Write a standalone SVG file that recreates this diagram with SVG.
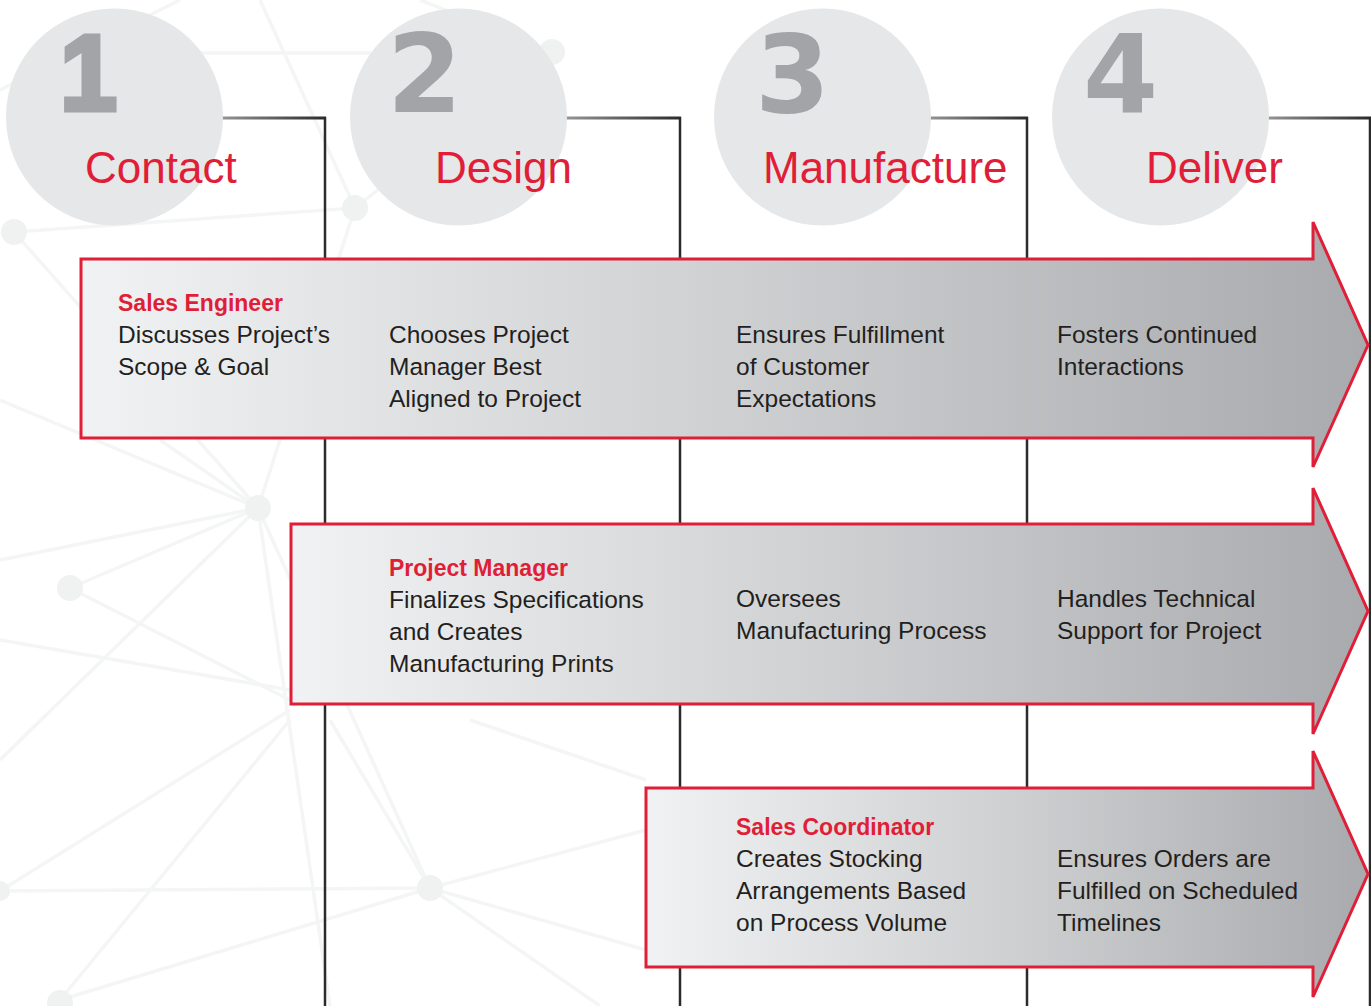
<svg xmlns="http://www.w3.org/2000/svg" width="1371" height="1006" viewBox="0 0 1371 1006">
<style>
.bg line{stroke:#f4f5f5;stroke-width:3.5;}
.bg circle{fill:#f0f1f1;}
.circ{fill:#e6e7e8;}
.num{font-family:"DejaVu Sans","Liberation Sans",sans-serif;font-weight:bold;font-size:108px;fill:#a2a4a7;}
.num1{font-family:"Liberation Sans",Arial,sans-serif;font-weight:bold;font-size:108px;fill:#a2a4a7;stroke:#a2a4a7;stroke-width:5;stroke-linejoin:miter;}
.lbl{font-family:"Liberation Sans",Arial,sans-serif;font-size:44px;fill:#e01e37;}
.arrow{fill:url(#ag);stroke:#e01e37;stroke-width:3;}
.t{font-family:"Liberation Sans",Arial,sans-serif;font-size:24.5px;fill:#231f20;}
.h{font-family:"Liberation Sans",Arial,sans-serif;font-size:23px;font-weight:bold;fill:#e01e37;}
.v{stroke:#2b2b2b;stroke-width:2.5;fill:none;}
.hz{fill:url(#lg);}
</style>
<defs>
<linearGradient id="ag" x1="0" y1="0" x2="1" y2="0">
<stop offset="0" stop-color="#f1f2f3"/>
<stop offset="0.5" stop-color="#cfd0d2"/>
<stop offset="1" stop-color="#a8aaad"/>
</linearGradient>
<linearGradient id="lg" x1="0" y1="0" x2="1" y2="0">
<stop offset="0" stop-color="#a0a0a2"/>
<stop offset="1" stop-color="#2b2b2b"/>
</linearGradient>
</defs>
<rect width="1371" height="1006" fill="#ffffff"/>
<g class="bg">
<line x1="0" y1="90" x2="180" y2="0"/>
<line x1="200" y1="53" x2="400" y2="53"/>
<line x1="14" y1="232" x2="355" y2="208"/>
<line x1="14" y1="232" x2="258" y2="508"/>
<line x1="355" y1="208" x2="258" y2="508"/>
<line x1="355" y1="208" x2="552" y2="52"/>
<line x1="552" y1="52" x2="420" y2="0"/>
<line x1="260" y1="0" x2="355" y2="208"/>
<line x1="0" y1="400" x2="258" y2="508"/>
<line x1="258" y1="508" x2="70" y2="588"/>
<line x1="258" y1="508" x2="0" y2="560"/>
<line x1="258" y1="508" x2="430" y2="888"/>
<line x1="258" y1="508" x2="330" y2="1006"/>
<line x1="258" y1="508" x2="0" y2="760"/>
<line x1="258" y1="508" x2="160" y2="440"/>
<line x1="70" y1="588" x2="290" y2="700"/>
<line x1="0" y1="640" x2="290" y2="690"/>
<line x1="430" y1="888" x2="0" y2="891"/>
<line x1="430" y1="888" x2="60" y2="1000"/>
<line x1="430" y1="888" x2="646" y2="830"/>
<line x1="430" y1="888" x2="600" y2="1006"/>
<line x1="430" y1="888" x2="330" y2="720"/>
<line x1="430" y1="888" x2="646" y2="950"/>
<line x1="0" y1="891" x2="290" y2="710"/>
<line x1="60" y1="1000" x2="290" y2="720"/>
<line x1="646" y1="780" x2="470" y2="720"/>
</g>
<g class="bg">
<circle cx="14" cy="232" r="13"/>
<circle cx="355" cy="208" r="13"/>
<circle cx="552" cy="52" r="13"/>
<circle cx="258" cy="508" r="13"/>
<circle cx="70" cy="588" r="13"/>
<circle cx="430" cy="888" r="13"/>
<circle cx="60" cy="1003" r="13"/>
<circle cx="0" cy="891" r="10"/>
</g>
<g id="connectors">
<rect class="hz" x="210" y="116.5" width="116" height="3"/>
<line class="v" x1="325" y1="117" x2="325" y2="1006"/>
<rect class="hz" x="554" y="116.5" width="127" height="3"/>
<line class="v" x1="680" y1="117" x2="680" y2="1006"/>
<rect class="hz" x="918" y="116.5" width="110" height="3"/>
<line class="v" x1="1027" y1="117" x2="1027" y2="1006"/>
<rect class="hz" x="1256" y="116.5" width="115" height="3"/>
<line class="v" x1="1370" y1="117" x2="1370" y2="1006" stroke-width="1.5"/>
</g>
<g id="step1">
<circle class="circ" cx="114.5" cy="117" r="108.5"/>
<text class="num1" transform="translate(60,110) scale(0.95,1)">1</text>
<text class="lbl" x="85" y="183">Contact</text>
</g>
<g id="step2">
<circle class="circ" cx="458.5" cy="117" r="108.5"/>
<text class="num" x="387" y="112">2</text>
<text class="lbl" x="435" y="183">Design</text>
</g>
<g id="step3">
<circle class="circ" cx="822.5" cy="117" r="108.5"/>
<text class="num" x="755" y="112">3</text>
<text class="lbl" x="763" y="183">Manufacture</text>
</g>
<g id="step4">
<circle class="circ" cx="1160.5" cy="117" r="108.5"/>
<text class="num" x="1083" y="112">4</text>
<text class="lbl" x="1146" y="183">Deliver</text>
</g>
<g id="arrow-sales-engineer">
<path class="arrow" d="M81,259 H1313 V222 L1368,345 L1313,467 V438 H81 Z"/>
<text class="h" x="118" y="311">Sales Engineer</text>
<text class="t" x="118" y="343">Discusses Project’s</text>
<text class="t" x="118" y="375">Scope &amp; Goal</text>
<text class="t" x="389" y="343">Chooses Project</text>
<text class="t" x="389" y="375">Manager Best</text>
<text class="t" x="389" y="407">Aligned to Project</text>
<text class="t" x="736" y="343">Ensures Fulfillment</text>
<text class="t" x="736" y="375">of Customer</text>
<text class="t" x="736" y="407">Expectations</text>
<text class="t" x="1057" y="343">Fosters Continued</text>
<text class="t" x="1057" y="375">Interactions</text>
</g>
<g id="arrow-project-manager">
<path class="arrow" d="M291,524 H1313 V488 L1368,611 L1313,734 V704 H291 Z"/>
<text class="h" x="389" y="576">Project Manager</text>
<text class="t" x="389" y="608">Finalizes Specifications</text>
<text class="t" x="389" y="640">and Creates</text>
<text class="t" x="389" y="672">Manufacturing Prints</text>
<text class="t" x="736" y="607">Oversees</text>
<text class="t" x="736" y="639">Manufacturing Process</text>
<text class="t" x="1057" y="607">Handles Technical</text>
<text class="t" x="1057" y="639">Support for Project</text>
</g>
<g id="arrow-sales-coordinator">
<path class="arrow" d="M646,788 H1313 V751 L1368,874 L1313,997 V967 H646 Z"/>
<text class="h" x="736" y="835">Sales Coordinator</text>
<text class="t" x="736" y="867">Creates Stocking</text>
<text class="t" x="736" y="899">Arrangements Based</text>
<text class="t" x="736" y="931">on Process Volume</text>
<text class="t" x="1057" y="867">Ensures Orders are</text>
<text class="t" x="1057" y="899">Fulfilled on Scheduled</text>
<text class="t" x="1057" y="931">Timelines</text>
</g>
</svg>
